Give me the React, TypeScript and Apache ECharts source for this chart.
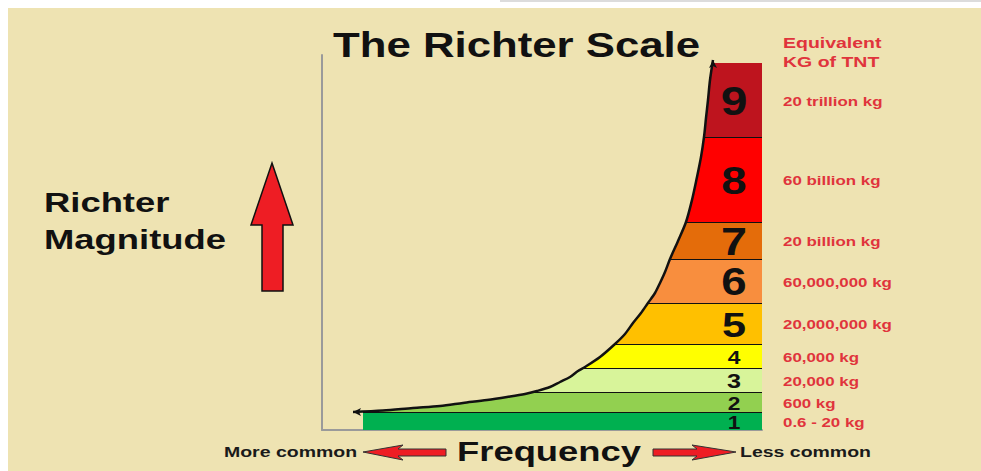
import React, { useEffect, useRef } from 'react';
import * as echarts from 'echarts';

// ---- data ----
const magnitudes = ['1', '2', '3', '4', '5', '6', '7', '8', '9'];
// band extents on the (hidden) magnitude-height axis
const bandLow = [0, 18, 38, 62, 86, 127, 171, 208, 293];
const bandHigh = [18, 38, 62, 86, 127, 171, 208, 293, 367];
const tntLabels = [
  '0.6 - 20 kg',
  '600 kg',
  '20,000 kg',
  '60,000 kg',
  '20,000,000 kg',
  '60,000,000 kg',
  '20 billion kg',
  '60 billion kg',
  '20 trillion kg',
];
// frequency curve (x = rarity, y = magnitude height)
const curveX = [31, 61, 91, 118, 141, 165, 185, 203, 215, 228, 238, 248, 256, 263, 278, 293, 303, 311, 319, 326, 333, 338, 343, 348, 356, 364, 370, 375, 379, 382, 384, 386, 388, 391];
const curveY = [18, 19.5, 22, 24, 27, 30, 33, 36, 39, 43, 48, 53, 59, 63, 73, 86, 96, 107, 117, 127, 137, 147, 158, 171, 189, 208, 230, 253, 273, 293, 312, 330, 350, 370];
const bandRightX = 440;
const bandFloorX = 41;
const digitX = 412;
const labelX = 461;

// ---- styles ----
const BG = '#EEE3B2';
const FONT = '"Liberation Sans", Arial, Helvetica, sans-serif';
const bandColors = ['#00B050', '#92D050', '#D8F49A', '#FFFF00', '#FFC000', '#F88E3E', '#E46C0A', '#FF0000', '#BE141E'];
const digitSizes = [19, 19, 21, 19, 36, 38, 39, 38, 40];
const TNT_RED = '#E0343C';
const SX = 1.3;

function curveXAt(y: number): number {
  if (y <= curveY[0]) return curveX[0];
  for (let i = 1; i < curveY.length; i++) {
    if (y <= curveY[i]) {
      const t = (y - curveY[i - 1]) / (curveY[i] - curveY[i - 1]);
      return curveX[i - 1] + t * (curveX[i] - curveX[i - 1]);
    }
  }
  return curveX[curveX.length - 1];
}
function leftAt(y: number): number {
  return Math.max(curveXAt(y), bandFloorX);
}

function txt(text: string, x: number, y: number, size: number, fill: string, scaleX = SX) {
  return {
    type: 'text',
    x,
    y,
    scaleX,
    style: {
      text,
      fontSize: size,
      fontWeight: 'bold',
      fontFamily: FONT,
      fill,
      align: 'left',
      verticalAlign: 'middle',
    },
  };
}

function buildOption(): any {
  const curveData: any[] = curveX.map((x, i) => {
    if (i === 0) return { value: [x, curveY[i]], symbol: 'arrow', symbolSize: [6, 8], symbolRotate: 90 };
    if (i === curveX.length - 1) return { value: [x, curveY[i]], symbol: 'arrow', symbolSize: [6, 8], symbolRotate: 0 };
    return { value: [x, curveY[i]], symbol: 'none' };
  });

  return {
    animation: false,
    backgroundColor: BG,
    grid: { left: 314, top: 47, width: 440, height: 375 },
    xAxis: {
      type: 'value',
      min: 0,
      max: 440,
      axisLine: { show: true, onZero: false, lineStyle: { color: '#9a9a9a', width: 2 } },
      axisTick: { show: false },
      axisLabel: { show: false },
      splitLine: { show: false },
    },
    yAxis: {
      type: 'value',
      min: 0,
      max: 375,
      axisLine: { show: true, onZero: false, lineStyle: { color: '#9a9a9a', width: 2 } },
      axisTick: { show: false },
      axisLabel: { show: false },
      splitLine: { show: false },
    },
    series: [
      {
        type: 'custom',
        z: 2,
        clip: false,
        data: magnitudes.map((m, i) => [i, bandLow[i], bandHigh[i]]),
        renderItem: (params: any, api: any) => {
          const i = api.value(0) as number;
          const lo = api.value(1) as number;
          const hi = api.value(2) as number;
          const pts: number[][] = [];
          pts.push(api.coord([bandRightX, lo]));
          pts.push(api.coord([bandRightX, hi]));
          pts.push(api.coord([leftAt(hi), hi]));
          for (let k = curveY.length - 1; k >= 0; k--) {
            if (curveY[k] < hi && curveY[k] > lo) {
              pts.push(api.coord([Math.max(curveX[k], bandFloorX), curveY[k]]));
            }
          }
          pts.push(api.coord([leftAt(lo), lo]));
          const children: any[] = [
            { type: 'polygon', shape: { points: pts }, style: { fill: bandColors[i] } },
          ];
          if (i < magnitudes.length - 1) {
            const a = api.coord([leftAt(hi), hi]);
            const b = api.coord([bandRightX, hi]);
            children.push({
              type: 'line',
              shape: { x1: a[0], y1: a[1], x2: b[0], y2: b[1] },
              style: { stroke: '#111', lineWidth: 2 },
            });
          }
          const mid = (lo + hi) / 2;
          const d = api.coord([digitX, mid]);
          children.push({
            type: 'text',
            x: d[0],
            y: d[1] + 1,
            scaleX: 1.2,
            style: {
              text: magnitudes[i],
              fontSize: digitSizes[i],
              fontWeight: 'bold',
              fontFamily: FONT,
              fill: '#111',
              align: 'center',
              verticalAlign: 'middle',
            },
          });
          const l = api.coord([labelX, mid]);
          children.push(txt(tntLabels[i], l[0], l[1] + 1, 13, TNT_RED));
          return { type: 'group', children };
        },
      },
      {
        type: 'line',
        z: 3,
        data: curveData,
        showSymbol: true,
        symbol: 'none',
        smooth: 0.3,
        itemStyle: { color: '#111' },
        lineStyle: { color: '#111', width: 2.5 },
      },
    ],
    graphic: [
      txt('The Richter Scale', 325, 37, 35, '#111', 1.25),
      txt('Richter', 36, 195, 28, '#111'),
      txt('Magnitude', 36, 232, 28, '#111'),
      txt('Equivalent', 775, 35, 15, TNT_RED),
      txt('KG of TNT', 775, 54, 15, TNT_RED),
      txt('More common', 216, 444, 15, '#1a1a1a'),
      txt('Frequency', 449, 444, 28, '#111'),
      txt('Less common', 732, 444, 15, '#1a1a1a'),
      {
        type: 'polygon',
        shape: { points: [[264, 155], [285, 217], [275, 217], [275, 283], [254, 283], [254, 217], [243, 217]] },
        style: { fill: '#EE1D24', stroke: '#111', lineWidth: 1.5 },
      },
      {
        type: 'polygon',
        shape: { points: [[355, 444], [395, 437], [390, 441], [438, 441], [438, 448], [390, 448], [395, 452]] },
        style: { fill: '#EE1D24', stroke: '#333', lineWidth: 1 },
      },
      {
        type: 'polygon',
        shape: { points: [[645, 441], [689, 441], [684, 437], [728, 444], [684, 452], [689, 448], [645, 448]] },
        style: { fill: '#EE1D24', stroke: '#333', lineWidth: 1 },
      },
    ],
  };
}

export default function App() {
  const ref = useRef<HTMLDivElement>(null);
  useEffect(() => {
    if (!ref.current) return;
    const chart = echarts.init(ref.current, null, { renderer: 'svg' });
    chart.setOption(buildOption());
    return () => chart.dispose();
  }, []);
  return (
    <div style={{ position: 'fixed', left: 0, top: 0, width: 981, height: 471, background: '#fff', overflow: 'hidden' }}>
      <div style={{ position: 'absolute', left: 500, top: 0, width: 481, height: 2, background: '#dcdcdc' }} />
      <div ref={ref} style={{ position: 'absolute', left: 8, top: 8, width: 973, height: 463 }} />
    </div>
  );
}
